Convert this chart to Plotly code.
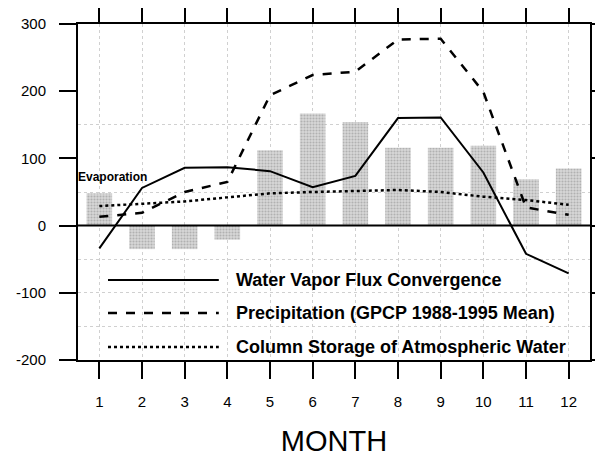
import plotly.graph_objects as go

months = list(range(1, 13))
evaporation = [48, -35, -35, -21, 112, 167, 154, 116, 116, 119, 69, 85]
flux_convergence = [-34, 56, 86, 87, 81, 57, 74, 160, 161, 79, -42, -71]
precipitation = [13, 19, 50, 65, 194, 224, 229, 277, 278, 199, 27, 16]
column_storage = [29, 32, 36, 42, 48, 50, 51, 53, 50, 43, 38, 31]

y_ticks = [-200, -100, 0, 100, 200, 300]
y_tick_text = ["-200", "-100", "0", "100", "200", "300"]

legend_labels = [
    "Water Vapor Flux Convergence",
    "Precipitation (GPCP 1988-1995 Mean)",
    "Column Storage of Atmospheric Water",
]

font_family = "Liberation Sans, Arial, sans-serif"

fig = go.Figure()

fig.add_trace(go.Bar(
    x=months, y=evaporation, width=0.6, name="Evaporation",
    marker=dict(
        color="#cfcfcf", line=dict(width=0),
        pattern=dict(shape=".", fgcolor="#8a8a8a", bgcolor="#d8d8d8", size=3, solidity=0.4),
    ),
    showlegend=False,
))
fig.add_trace(go.Scatter(
    x=months, y=flux_convergence, mode="lines", name=legend_labels[0],
    line=dict(color="black", width=2), showlegend=False,
))
fig.add_trace(go.Scatter(
    x=months, y=precipitation, mode="lines", name=legend_labels[1],
    line=dict(color="black", width=2.5, dash="dash"), showlegend=False,
))
fig.add_trace(go.Scatter(
    x=months, y=column_storage, mode="lines", name=legend_labels[2],
    line=dict(color="black", width=2.5, dash="dot"), showlegend=False,
))

# hand-drawn legend inside the plot area
legend_rows = [0.238, 0.140, 0.039]
legend_dash = ["solid", "dash", "dot"]
for label, ypos, dash in zip(legend_labels, legend_rows, legend_dash):
    fig.add_shape(type="line", xref="paper", yref="paper",
                  x0=0.0586, x1=0.275, y0=ypos, y1=ypos,
                  line=dict(color="black", width=2.5 if dash != "solid" else 2, dash=dash))
    fig.add_annotation(xref="paper", yref="paper", x=0.305, y=ypos,
                       text="<b>" + label + "</b>", showarrow=False,
                       xanchor="left", yanchor="middle",
                       font=dict(family=font_family, size=18, color="black"))

fig.add_annotation(xref="x", yref="y", x=0.5, y=72, text="<b>Evaporation</b>",
                   showarrow=False, xanchor="left", yanchor="middle", xshift=-2,
                   font=dict(family=font_family, size=12, color="black"))

fig.add_hline(y=0, line=dict(color="black", width=2))

grid_color = "#d0d0d0"

# page body has an 8px margin, so the figure is trimmed by that much
fig.update_layout(
    width=595, height=449,
    margin=dict(l=70, r=13, t=16, b=97),
    paper_bgcolor="white", plot_bgcolor="white",
    font=dict(family=font_family, size=15, color="black"),
    bargap=0.4,
    xaxis=dict(
        range=[0.5, 12.5], tickmode="array", tickvals=months,
        ticks="outside", ticklen=17, tickwidth=1.5, tickcolor="black",
        ticklabelstandoff=10,
        showline=True, linecolor="black", linewidth=2, mirror="ticks",
        showgrid=True, gridcolor=grid_color, griddash="dot", gridwidth=1,
        zeroline=False, automargin=False,
        title=dict(text="MONTH", font=dict(size=29), standoff=24),
    ),
    yaxis=dict(
        range=[-200, 300], tickmode="array", tickvals=y_ticks, ticktext=y_tick_text,
        ticks="outside", ticklen=17, tickwidth=1.5, tickcolor="black",
        ticklabelstandoff=10,
        showline=True, linecolor="black", linewidth=2, mirror="ticks",
        showgrid=False, zeroline=False, automargin=False,
        minor=dict(tickvals=[-150, -100, -50, 50, 150], showgrid=True,
                   gridcolor=grid_color, griddash="dot", gridwidth=1),
    ),
)

fig.write_html("out.html")
